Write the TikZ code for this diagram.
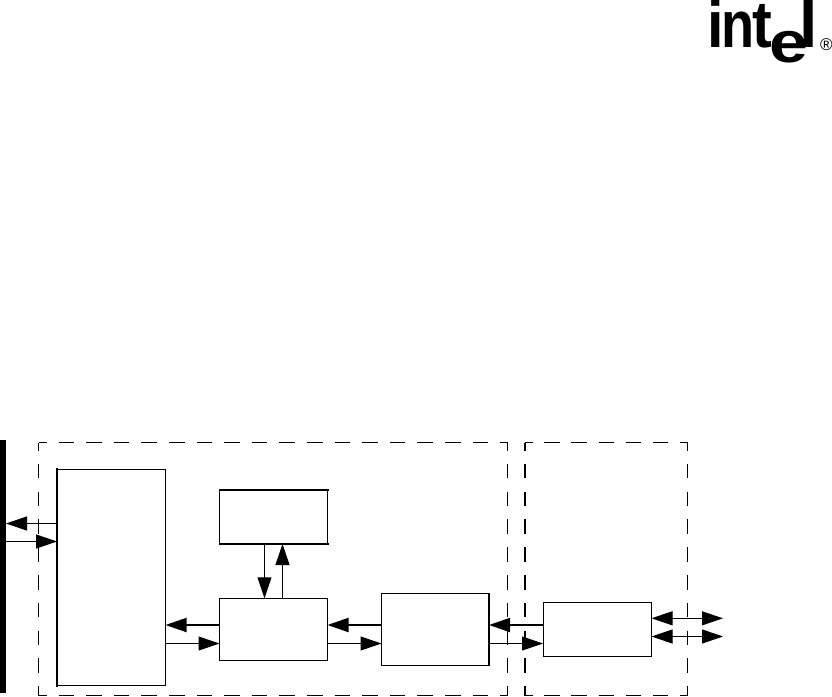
\documentclass[tikz,border=0pt]{standalone}
\usepackage{fontspec}
\usetikzlibrary{arrows.meta}
\setmainfont{Liberation Sans}
\tikzset{
  blk/.style={draw=black,line width=1pt,fill=white,inner sep=0pt,outer sep=0pt,anchor=north west},
  zoneh/.style={draw=black,line width=1pt,dash pattern=on 15.5pt off 12.1pt,dash phase=7.5pt},
  zoneht/.style={draw=black,line width=1pt,dash pattern=on 15.5pt off 11.6pt,dash phase=7.5pt},
  zonev/.style={draw=black,line width=1pt,dash pattern=on 14.5pt off 13.3pt,dash phase=6.5pt},
  thickedge/.style={line width=2pt,line cap=rect},
  thin/.style={line width=1pt,-{Triangle[length=21pt,width=14pt]}},
  bold/.style={line width=2pt,-{Triangle[length=21pt,width=14pt]}},
  thinboth/.style={line width=1pt,{Triangle[length=21pt,width=14pt]}-{Triangle[length=21pt,width=14pt]}},
  logo/.style={inner sep=0pt,outer sep=0pt,anchor=base west,font=\fontsize{66}{66}\selectfont\bfseries}
}
\begin{document}
\begin{tikzpicture}[x=1pt,y=-1pt]
\useasboundingbox (0,0) rectangle (832,696);
% logo
\node[logo,xscale=.9] (li) at (707,47.2) {i};
\node[logo,xscale=.82] (ln) at (721,47.2) {n};
\node[logo,xscale=.9] (lt) at (752,47.2) {t};
\node[logo,xscale=1.2,font=\fontsize{58}{58}\selectfont\bfseries] (le) at (769,62.5) {e};
\node[logo,xscale=1] (ll) at (799,47.2) {l};
\node[inner sep=0pt,font=\fontsize{17}{17}\selectfont] (lr) at (826.5,44.5) {®};
% side bar
\node[fill=black,inner sep=0pt,outer sep=0pt,anchor=north west,minimum width=6pt,minimum height=253pt] (bar) at (0,440) {};
% dashed zones
\coordinate (z1a) at (38.5,442.5);
\coordinate (z1b) at (507.5,442.5);
\coordinate (z1c) at (507.5,695.5);
\coordinate (z1d) at (38.5,695.5);
\coordinate (z2a) at (524.7,442.5);
\coordinate (z2b) at (687.7,442.5);
\coordinate (z2c) at (687.7,695.5);
\coordinate (z2d) at (524.7,695.5);
\draw[zoneh] (z1a) -- (z1b);
\draw[zoneh] (z1d) -- (z1c);
\draw[zonev] (z1a) -- (z1d);
\draw[zonev] (z1b) -- (z1c);
\draw[zoneht] (z2a) -- (z2b);
\draw[zoneht] (z2d) -- (z2c);
\draw[zonev,line width=2pt] (z2a) -- (z2d);
\draw[zonev] (z2b) -- (z2c);
% boxes
\node[blk,minimum width=108.5pt,minimum height=216.5pt] (a) at (57,469.3) {};
\node[blk,minimum width=108pt,minimum height=54pt] (b) at (219.5,490) {};
\node[blk,minimum width=108pt,minimum height=62pt] (c) at (219.5,598.3) {};
\node[blk,minimum width=107.5pt,minimum height=71.5pt] (d) at (381.5,593.5) {};
\node[blk,minimum width=108.5pt,minimum height=54pt] (e) at (543,602.3) {};
% heavier edges
\draw[thickedge] (a.north west) -- (a.south west);
\draw[thickedge] (b.north west) -- (b.north east);
\draw[thickedge] (b.south west) -- (b.south east);
\draw[thickedge] (d.north east) -- (d.south east);
% connectors
\draw[thin] (a.west |- 0,523.5) -- (bar.east |- 0,523.5);
\draw[thin] (bar.east |- 0,541.5) -- (a.west |- 0,541.5);
\draw[bold] (c.west |- 0,625) -- (a.east |- 0,625);
\draw[thin] (a.east |- 0,643.5) -- (c.west |- 0,643.5);
\draw[thin] (264.5,0 |- b.south) -- (264.5,0 |- c.north);
\draw[thin] (282.5,0 |- c.north) -- (282.5,0 |- b.south);
\draw[bold] (d.west |- 0,625) -- (c.east |- 0,625);
\draw[thin] (c.east |- 0,643.5) -- (d.west |- 0,643.5);
\draw[bold] (e.west |- 0,625) -- (d.east |- 0,625);
\draw[thin] (d.east |- 0,643.5) -- (e.west |- 0,643.5);
\coordinate (o1) at (723,618.3);
\coordinate (o2) at (723,636.5);
\draw[thinboth] (e.east |- o1) -- (o1);
\draw[thinboth] (e.east |- o2) -- (o2);
\end{tikzpicture}
\end{document}
